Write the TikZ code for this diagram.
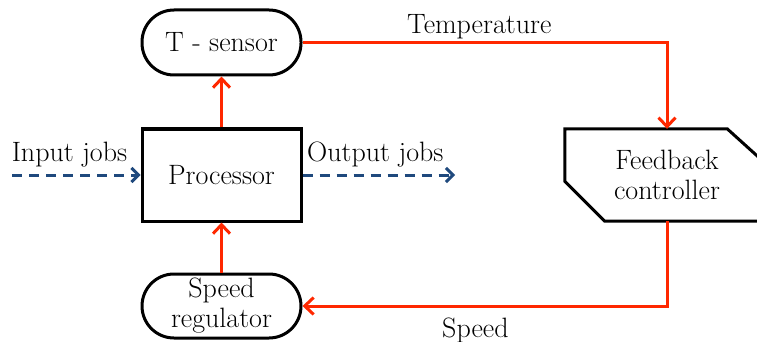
\documentclass[tikz,border=0pt]{standalone}
\usetikzlibrary{arrows.meta,calc}
\definecolor{ared}{RGB}{255,40,0}
\definecolor{ablue}{RGB}{31,73,125}
\begin{document}
\begin{tikzpicture}[x=1pt,y=-1pt,
  font=\fontsize{28}{30}\selectfont,
  box/.style={draw, line width=3pt, minimum width=159pt, align=center, inner sep=0pt},
  pill/.style={box, minimum height=65pt, rounded corners=32pt},
  redarrow/.style={ared, line width=3pt, -{Straight Barb[length=9pt,width=17pt]}},
  bluearrow/.style={ablue, line width=3pt, dash pattern=on 10pt off 7pt, -{Straight Barb[length=7pt,width=14pt]}},
  lbl/.style={inner sep=0pt}]
\useasboundingbox (0,0) rectangle (757,342);
\clip (0,0) rectangle (757,342);
\node[pill] (ts) at (221.5,42.5) {T - sensor};
\node[box, minimum height=92pt] (proc) at (221.5,175) {Processor};
\node[pill, minimum height=64pt] (sr) at (221.5,306) {Speed\\regulator};
\node[lbl, align=center, minimum width=204pt, minimum height=92pt] (fb) at (667,175) {Feedback\\controller};
\draw[line width=3pt] (fb.north west) -- ($(fb.north east)+(-42,0)$) -- ($(fb.north east)+(0,38)$)
  -- (fb.south east) -- ($(fb.south west)+(40,0)$) -- ($(fb.south west)+(0,-40)$) -- cycle;
\draw[redarrow] (proc.north) -- (ts.south);
\draw[redarrow] (sr.north) -- (proc.south);
\draw[redarrow] (ts.east) -| (fb.north);
\draw[redarrow] (fb.south) |- (sr.east);
\coordinate (inS) at (12,175);
\coordinate (outE) at (455,175);
\draw[bluearrow] (inS) -- (proc.west);
\draw[bluearrow] (proc.east) -- (outE);
\node[lbl, anchor=base] (inlab) at (69.5,161) {Input jobs};
\node[lbl, anchor=base west] (outlab) at (307,161) {Output jobs};
\node[lbl, anchor=base west] (tlab) at (407,34) {Temperature};
\node[lbl, anchor=base west] (slab) at (442,337) {Speed};
\end{tikzpicture}
\end{document}
